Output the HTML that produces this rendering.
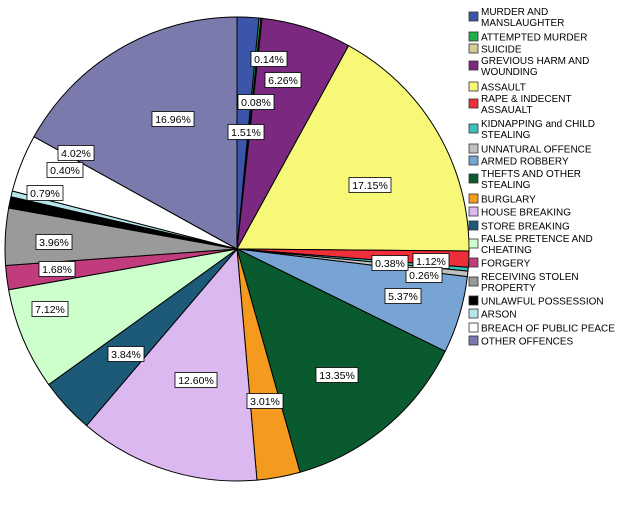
<!DOCTYPE html>
<html><head><meta charset="utf-8"><style>
body{margin:0;background:#fff;width:626px;height:501px;overflow:hidden;font-family:"Liberation Sans",sans-serif}
svg text{font-family:"Liberation Sans",sans-serif;font-size:10px}
svg text.lbl{font-size:10.5px}
</style></head><body>
<svg id="c" width="626" height="501"></svg>
<script>
const categories=["MURDER AND MANSLAUGHTER","ATTEMPTED MURDER","SUICIDE","GREVIOUS HARM AND WOUNDING","ASSAULT","RAPE & INDECENT ASSAUALT","KIDNAPPING and CHILD STEALING","UNNATURAL OFFENCE","ARMED ROBBERY","THEFTS AND OTHER STEALING","BURGLARY","HOUSE BREAKING","STORE BREAKING","FALSE PRETENCE AND CHEATING","FORGERY","RECEIVING STOLEN PROPERTY","UNLAWFUL POSSESSION","ARSON","BREACH OF PUBLIC PEACE","OTHER OFFENCES"];
const values=[1.51,0.14,0.08,6.26,17.15,1.12,0.26,0.38,5.37,13.35,3.01,12.60,3.84,7.12,1.68,3.96,0.79,0.40,4.02,16.96];
const colors=["#3b56a8","#22b04a","#d4cc98","#7a2880","#f8f878","#ee2e3a","#3cc0c0","#c0c0c0","#78a4d4","#0a5a30","#f49a1e","#dcb8f0","#1c5a78","#ccffcc","#c03c7c","#9a9a9a","#000000","#b4e6ea","#ffffff","#7a7aac"];
const labelPos=[[246,132],[269,59],[256,102],[283,80],[370,185],[431,261],[424,275],[390,263],[403,296],[337,375],[265,401],[196,380],[126,354],[50,309],[57,269],[54,242],[45,193],[65,170],[76,153],[173,119]];
const legendY=[17,37,49,66,87,104,129,149,161,179,199,212,226,244,263,282,301,314,328,341];
const NS="http://www.w3.org/2000/svg";
const svg=document.getElementById('c');
const cx=237,cy=249,R=232;
const total=values.reduce((a,b)=>a+b,0);
function pt(a){return [cx+R*Math.sin(a),cy-R*Math.cos(a)];}
let acc=0;
values.forEach((v,i)=>{
  const a0=acc/total*2*Math.PI; acc+=v; const a1=acc/total*2*Math.PI;
  const p0=pt(a0),p1=pt(a1);
  const p=document.createElementNS(NS,'path');
  p.setAttribute('d',`M${cx},${cy}L${p0[0]},${p0[1]}A${R},${R} 0 ${a1-a0>Math.PI?1:0} 1 ${p1[0]},${p1[1]}Z`);
  p.setAttribute('fill',colors[i]);p.setAttribute('stroke','#000');p.setAttribute('stroke-width','1');
  
  
  svg.appendChild(p);
});
values.forEach((v,i)=>{
  const g=document.createElementNS(NS,'g');
  
  
  const t=v.toFixed(2)+'%';
  const w=t.length*6+6;
  const [x,y]=labelPos[i];
  const r=document.createElementNS(NS,'rect');
  r.setAttribute('x',x-w/2);r.setAttribute('y',y-7.5);r.setAttribute('width',w);r.setAttribute('height',15);
  r.setAttribute('fill','#fff');r.setAttribute('stroke','#000');r.setAttribute('stroke-width','0.8');
  g.appendChild(r);
  const tx=document.createElementNS(NS,'text');
  tx.setAttribute('class','lbl');
  tx.setAttribute('x',x);tx.setAttribute('y',y+4);tx.setAttribute('text-anchor','middle');
  tx.textContent=t;g.appendChild(tx);
  svg.appendChild(g);
});
categories.forEach((c,i)=>{
  const g=document.createElementNS(NS,'g');
  
  
  const y=legendY[i];
  const r=document.createElementNS(NS,'rect');
  r.setAttribute('x',469);r.setAttribute('y',y-5);r.setAttribute('width',9);r.setAttribute('height',9);
  r.setAttribute('fill',colors[i]);r.setAttribute('stroke','#333');r.setAttribute('stroke-width','0.8');
  g.appendChild(r);
  const words=c.split(' ');let lines=[c];
  if(c.length>22){let l1='',k=0;while(k<words.length&&(l1+' '+words[k]).trim().length<=21){l1=(l1+' '+words[k]).trim();k++;}lines=[l1,words.slice(k).join(' ')];}
  lines.forEach((ln,j)=>{
    const t=document.createElementNS(NS,'text');
    t.setAttribute('x',481);
    t.setAttribute('y',(lines.length>1?y-5.5+j*11:y)+3.5);
    t.textContent=ln;g.appendChild(t);
  });
  svg.appendChild(g);
});
</script>
</body></html>
